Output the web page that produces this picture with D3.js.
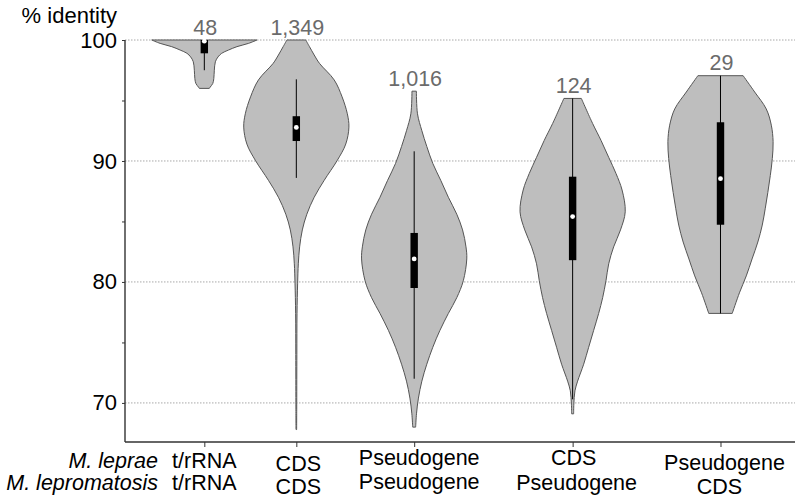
<!DOCTYPE html>
<html>
<head>
<meta charset="utf-8">
<script src="https://cdn.jsdelivr.net/npm/d3@7"></script>
<style>
  html, body { margin: 0; padding: 0; background: #fff; }
  svg { display: block; font-family: "Liberation Sans", Arial, sans-serif; }
</style>
</head>
<body>
<svg id="chart" width="799" height="504"></svg>
<script>
// ---------------- DATA ----------------
const speciesA = "M. leprae";
const speciesB = "M. lepromatosis";
const categoriesA = ["t/rRNA", "CDS", "Pseudogene", "CDS", "Pseudogene"];
const categoriesB = ["t/rRNA", "CDS", "Pseudogene", "Pseudogene", "CDS"];
const counts = ["48", "1,349", "1,016", "124", "29"];
const yTicks = [70, 75, 80, 85, 90, 95, 100];
const yLabelTicks = [70, 80, 90, 100];

// violin outlines: [value (% identity), relative density (max = 1)]
const violinTRNA = [[100, 1.0], [99.72, 0.84], [99.45, 0.62], [99.17, 0.46], [98.9, 0.33], [98.6, 0.26],
  [98.2, 0.21], [97.5, 0.19], [96.8, 0.18], [96.4, 0.16], [96.1, 0.11], [96.0, 0.095]];
const violinCDS = [[100, 0.18], [99.45, 0.25], [98.76, 0.34], [98.07, 0.44], [96.7, 0.72], [95.3, 0.87],
  [93.9, 0.97], [92.8, 1.0], [91.4, 0.94], [90.06, 0.78], [88.4, 0.53], [87.0, 0.34], [85.6, 0.20],
  [84.3, 0.114], [82.9, 0.063], [81.5, 0.038], [79.9, 0.025], [77.4, 0.013], [74, 0.01], [70, 0.008], [67.8, 0.006]];
const violinPseudo = [[95.77, 0.042], [93.9, 0.063], [92.5, 0.146], [91.2, 0.24], [89.8, 0.354], [88.4, 0.505],
  [87.0, 0.65], [85.6, 0.81], [84.3, 0.92], [82.9, 0.985], [81.9, 1.0], [80.1, 0.934], [78.7, 0.81],
  [77.4, 0.65], [76.0, 0.49], [74.6, 0.354], [73.2, 0.24], [71.8, 0.146], [70.4, 0.081], [69.1, 0.044], [68.0, 0.028]];
const violinCDSPseudo = [[95.17, 0.166], [93.1, 0.38], [91.7, 0.54], [90.3, 0.686], [88.96, 0.825], [87.6, 0.94],
  [85.8, 1.0], [84.3, 0.91], [82.9, 0.78], [81.5, 0.686], [80.1, 0.634], [78.7, 0.571], [77.4, 0.495],
  [76.0, 0.40], [74.6, 0.305], [73.2, 0.21], [71.8, 0.095], [71.0, 0.044], [69.9, 0.023], [69.1, 0.019]];
const violinPseudoCDS = [[97.05, 0.43], [95.7, 0.65], [94.3, 0.87], [92.96, 0.966], [91.6, 1.0], [90.2, 0.985],
  [88.8, 0.947], [87.4, 0.90], [86.05, 0.85], [84.7, 0.794], [83.3, 0.71], [81.9, 0.60], [80.5, 0.49],
  [79.1, 0.36], [77.4, 0.223]];
const violins = [violinTRNA, violinCDS, violinPseudo, violinCDSPseudo, violinPseudoCDS];

// box statistics: [whisker low, q1, median, q3, whisker high]
const boxTRNA = [97.5, 98.9, 99.9, 100, 100];
const boxCDS = [88.6, 91.65, 92.77, 93.7, 96.75];
const boxPseudo = [72.0, 79.5, 81.9, 84.05, 90.8];
const boxCDSPseudo = [70.3, 81.8, 85.4, 88.7, 95.17];
const boxPseudoCDS = [77.4, 84.73, 88.54, 93.2, 97.05];
const boxes = [boxTRNA, boxCDS, boxPseudo, boxCDSPseudo, boxPseudoCDS];

// ---------------- LAYOUT ----------------
const slotPos = [1.184, 2.557, 4.316, 6.681, 8.888];   // category slots along the x domain
const row1Base = [468, 471, 465, 465, 470];
const row2Base = [490, 494, 489, 490, 494];
const row1Nudge = [0, 2, 5, 1, 4];
const row2Nudge = [0, 2, 5, 4, -1];
const FONT = 22;
const LABEL_FONT = 21.5;

const svg = d3.select("#chart");
const x = d3.scaleLinear().domain([0, 10]).range([125, 795]);
const y = d3.scaleLinear().domain([66.77, 100]).range([442, 40]);
const w = d3.scaleLinear().domain([0, 1]).range([0, 52.6]);

// gridlines
svg.append("g").selectAll("line").data(yLabelTicks).join("line")
  .attr("x1", x(0)).attr("x2", x(10))
  .attr("y1", d => y(d)).attr("y2", d => y(d))
  .attr("stroke", "#a8a8a8").attr("stroke-width", 1)
  .attr("stroke-dasharray", "1.5,1.5");

// violins
const area = d3.area()
  .curve(d3.curveCatmullRom.alpha(0.5))
  .y(d => y(d[0]));
violins.forEach((v, i) => {
  const cx = x(slotPos[i]);
  svg.append("path")
    .datum(v)
    .attr("d", area.x0(d => cx - w(d[1])).x1(d => cx + w(d[1])))
    .attr("fill", "#bebebe")
    .attr("stroke", "#555")
    .attr("stroke-width", 1);
});

// boxes
boxes.forEach((b, i) => {
  const cx = x(slotPos[i]);
  const g = svg.append("g");
  g.append("line").attr("x1", cx).attr("x2", cx)
    .attr("y1", y(b[4])).attr("y2", y(b[0]))
    .attr("stroke", "#000").attr("stroke-width", 1);
  g.append("rect").attr("x", cx - 3.7).attr("width", 7.4)
    .attr("y", y(b[3])).attr("height", y(b[1]) - y(b[3]))
    .attr("fill", "#000");
  g.append("circle").attr("cx", cx).attr("cy", y(b[2])).attr("r", 2.4)
    .attr("fill", "#fff");
});

// count labels
counts.forEach((c, i) => {
  const top = violins[i][0][0];
  svg.append("text")
    .attr("x", x(slotPos[i]) + 1)
    .attr("y", y(top) - 5.5)
    .attr("text-anchor", "middle")
    .attr("font-size", 21.5)
    .attr("fill", "#6b6b6b")
    .text(c);
});

// y axis
const yAxis = d3.axisLeft(y).tickValues(yTicks).tickSize(3).tickPadding(5)
  .tickFormat(d => yLabelTicks.includes(d) ? d : "");
const gy = svg.append("g").attr("transform", `translate(${x(0)},0)`).call(yAxis);
gy.select(".domain").attr("d", `M0,${y(100)}V${y(66.77)}`).attr("stroke", "#333").attr("stroke-width", 1.4);
gy.selectAll(".tick line").attr("stroke", "#333");
gy.selectAll(".tick text").attr("font-size", FONT).attr("fill", "#000")
  .attr("font-family", "'Liberation Sans', Arial, sans-serif");

// x axis
const xAxis = d3.axisBottom(x).tickValues(slotPos).tickSize(5).tickFormat("");
const gx = svg.append("g").attr("transform", `translate(0,${y(66.77)})`).call(xAxis);
gx.select(".domain").attr("d", `M${x(0)},0H${x(10)}`).attr("stroke", "#333").attr("stroke-width", 1.4);
gx.selectAll(".tick line").attr("stroke", "#333");

// y axis title
svg.append("text").attr("x", 117).attr("y", 23).attr("text-anchor", "end")
  .attr("font-size", FONT).attr("fill", "#000").text("% identity");

// species labels
svg.append("text").attr("x", 158).attr("y", 468).attr("text-anchor", "end")
  .attr("font-size", LABEL_FONT).attr("font-style", "italic").text(speciesA);
svg.append("text").attr("x", 158).attr("y", 490).attr("text-anchor", "end")
  .attr("font-size", LABEL_FONT).attr("font-style", "italic").text(speciesB);

// category labels
categoriesA.forEach((c, i) => {
  svg.append("text").attr("x", x(slotPos[i]) + row1Nudge[i]).attr("y", row1Base[i])
    .attr("text-anchor", "middle").attr("font-size", LABEL_FONT).text(c);
});
categoriesB.forEach((c, i) => {
  svg.append("text").attr("x", x(slotPos[i]) + row2Nudge[i]).attr("y", row2Base[i])
    .attr("text-anchor", "middle").attr("font-size", LABEL_FONT).text(c);
});
</script>
</body>
</html>
